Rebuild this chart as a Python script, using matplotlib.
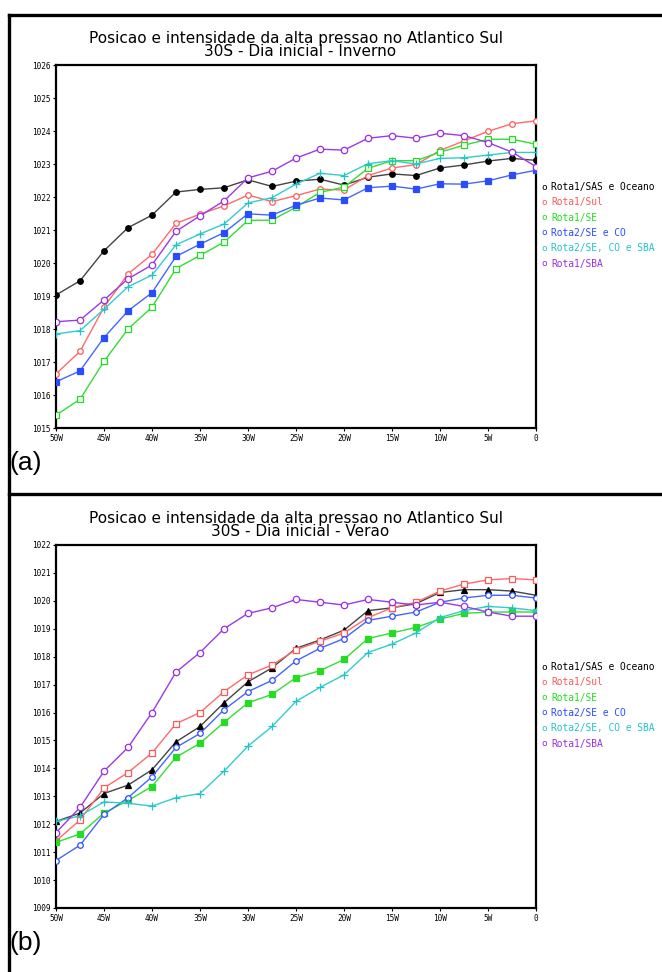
import matplotlib
matplotlib.use('Agg')
import matplotlib.pyplot as plt
from matplotlib.lines import Line2D

# ---------------- data ----------------
lon = [-50, -47.5, -45, -42.5, -40, -37.5, -35, -32.5, -30, -27.5, -25,
       -22.5, -20, -17.5, -15, -12.5, -10, -7.5, -5, -2.5, 0]
xtick_vals = [-50, -45, -40, -35, -30, -25, -20, -15, -10, -5, 0]
xtick_labels = ['50W', '45W', '40W', '35W', '30W', '25W', '20W', '15W', '10W', '5W', '0']

series_names = ['Rota1/SAS e Oceano', 'Rota1/Sul', 'Rota1/SE',
                'Rota2/SE e CO', 'Rota2/SE, CO e SBA', 'Rota1/SBA']

# Winter (Inverno)
inv_sas = [1019.03, 1019.46, 1020.37, 1021.07, 1021.45, 1022.15, 1022.23, 1022.28, 1022.52, 1022.32, 1022.48,
           1022.54, 1022.36, 1022.60, 1022.70, 1022.65, 1022.88, 1022.97, 1023.09, 1023.17, 1023.11]
inv_sul = [1016.64, 1017.32, 1018.66, 1019.67, 1020.26, 1021.20, 1021.48, 1021.73, 1022.06, 1021.86, 1022.04,
           1022.24, 1022.21, 1022.65, 1022.88, 1022.98, 1023.41, 1023.70, 1023.99, 1024.22, 1024.31]
inv_se = [1015.39, 1015.87, 1017.02, 1018.00, 1018.66, 1019.83, 1020.23, 1020.63, 1021.29, 1021.30, 1021.69,
          1022.14, 1022.30, 1022.87, 1023.10, 1023.10, 1023.36, 1023.57, 1023.75, 1023.75, 1023.60]
inv_seco = [1016.40, 1016.73, 1017.74, 1018.55, 1019.10, 1020.20, 1020.57, 1020.92, 1021.49, 1021.45, 1021.75,
            1021.97, 1021.91, 1022.28, 1022.33, 1022.24, 1022.40, 1022.39, 1022.49, 1022.67, 1022.81]
inv_secosba = [1017.85, 1017.95, 1018.60, 1019.28, 1019.63, 1020.55, 1020.88, 1021.18, 1021.82, 1021.98, 1022.39,
               1022.72, 1022.65, 1023.01, 1023.10, 1023.00, 1023.17, 1023.19, 1023.27, 1023.35, 1023.35]
inv_sba = [1018.22, 1018.27, 1018.88, 1019.52, 1019.94, 1020.96, 1021.43, 1021.88, 1022.58, 1022.78, 1023.18,
           1023.45, 1023.42, 1023.78, 1023.86, 1023.78, 1023.93, 1023.86, 1023.65, 1023.36, 1022.92]

# Summer (Verao)
ver_sas = [1012.10, 1012.40, 1013.10, 1013.40, 1013.95, 1014.95, 1015.50, 1016.35, 1017.10, 1017.60, 1018.30,
           1018.60, 1018.95, 1019.65, 1019.75, 1019.90, 1020.30, 1020.40, 1020.40, 1020.35, 1020.20]
ver_sul = [1011.40, 1012.15, 1013.30, 1013.85, 1014.55, 1015.60, 1016.00, 1016.75, 1017.35, 1017.70, 1018.25,
           1018.55, 1018.85, 1019.40, 1019.75, 1019.95, 1020.35, 1020.60, 1020.75, 1020.80, 1020.75]
ver_se = [1011.35, 1011.65, 1012.40, 1012.85, 1013.35, 1014.40, 1014.90, 1015.65, 1016.35, 1016.65, 1017.25,
          1017.50, 1017.90, 1018.65, 1018.85, 1019.05, 1019.35, 1019.55, 1019.60, 1019.60, 1019.60]
ver_seco = [1010.70, 1011.25, 1012.35, 1012.95, 1013.70, 1014.75, 1015.25, 1016.10, 1016.75, 1017.15, 1017.85,
            1018.30, 1018.65, 1019.30, 1019.45, 1019.60, 1019.95, 1020.10, 1020.20, 1020.20, 1020.10]
ver_secosba = [1012.10, 1012.30, 1012.80, 1012.75, 1012.65, 1012.95, 1013.10, 1013.90, 1014.80, 1015.50, 1016.40,
               1016.90, 1017.35, 1018.15, 1018.45, 1018.85, 1019.40, 1019.65, 1019.80, 1019.75, 1019.65]
ver_sba = [1011.70, 1012.60, 1013.90, 1014.75, 1016.00, 1017.45, 1018.15, 1019.00, 1019.55, 1019.75, 1020.05,
           1019.95, 1019.85, 1020.05, 1019.95, 1019.85, 1019.95, 1019.80, 1019.60, 1019.45, 1019.45]

inv_yticks = [1015, 1016, 1017, 1018, 1019, 1020, 1021, 1022, 1023, 1024, 1025, 1026]
ver_yticks = [1009, 1010, 1011, 1012, 1013, 1014, 1015, 1016, 1017, 1018, 1019, 1020, 1021, 1022]

title1 = 'Posicao e intensidade da alta pressao no Atlantico Sul'
title_inv = '30S - Dia inicial - Inverno'
title_ver = '30S - Dia inicial - Verao'

colors = ['#000000', '#ff5858', '#22dd22', '#2a4cff', '#22c4c8', '#9a2ee6']
line_colors = ['#444444', '#ff6a6a', '#33dd33', '#4466ff', '#33cccc', '#9a3ae6']

# markers: (marker, filled)
inv_markers = [('o', True), ('o', False), ('s', False), ('s', True), ('+', False), ('o', False)]
ver_markers = [('^', True), ('s', False), ('s', True), ('o', False), ('+', False), ('o', False)]

W, H = 662, 972
fig = plt.figure(figsize=(W / 100, H / 100), dpi=100)
fig.patch.set_facecolor('white')


def px_rect(x0, y0, x1, y1):
    return [x0 / W, 1 - y1 / H, (x1 - x0) / W, (y1 - y0) / H]


def draw_panel(top, series, markers, yticks, subtitle, letter):
    ax = fig.add_axes(px_rect(56, top, 536, top + 363))
    for vals, col, lcol, (mk, filled) in zip(series, colors, line_colors, markers):
        ms = 4.0 if mk != '+' else 5.5
        if col == colors[5]:
            ms = 4.6
        ax.plot(lon, vals, color=lcol, lw=1.0, marker=mk, ms=ms,
                mfc=col if filled else 'white', mec=col, mew=0.9, zorder=3)
    ax.set_xlim(-50, 0)
    ax.set_ylim(yticks[0], yticks[-1])
    ax.set_xticks(xtick_vals)
    ax.set_xticklabels(xtick_labels)
    ax.set_yticks(yticks)
    ax.set_yticklabels([str(t) for t in yticks])
    ax.tick_params(axis='both', direction='out', length=2.5, width=0.8, pad=1.5,
                   labelsize=5.6)
    for lab in ax.get_xticklabels() + ax.get_yticklabels():
        lab.set_family('DejaVu Sans Mono')
    for sp in ax.spines.values():
        sp.set_linewidth(1.6)
    # titles
    fig.text(296 / W, 1 - (top - 27) / H, title1, ha='center', va='center',
             fontsize=11, family='DejaVu Sans')
    fig.text(300 / W, 1 - (top - 13) / H, subtitle, ha='center', va='center',
             fontsize=11, family='DejaVu Sans')
    # legend
    ly0 = top + 122
    for i, (name, col) in enumerate(zip(series_names, colors)):
        y = 1 - (ly0 + i * 15.3) / H
        fig.text(541 / W, y, 'o', color=col, fontsize=6.8, family='DejaVu Sans Mono',
                 ha='left', va='center')
        fig.text(551 / W, y, name, color=col, fontsize=6.9, family='DejaVu Sans Mono',
                 ha='left', va='center')
    fig.text(9 / W, 1 - (top + 398) / H, letter, fontsize=19, family='Liberation Sans',
             ha='left', va='center')
    return ax


draw_panel(65, [inv_sas, inv_sul, inv_se, inv_seco, inv_secosba, inv_sba],
           inv_markers, inv_yticks, title_inv, '(a)')
draw_panel(545, [ver_sas, ver_sul, ver_se, ver_seco, ver_secosba, ver_sba],
           ver_markers, ver_yticks, title_ver, '(b)')

# panel frames
lw = 2.4
fig.add_artist(Line2D([9 / W, 1], [1 - 15 / H, 1 - 15 / H], color='black', lw=lw))
fig.add_artist(Line2D([9 / W, 1], [1 - 494 / H, 1 - 494 / H], color='black', lw=lw))
fig.add_artist(Line2D([9 / W, 9 / W], [1 - 15 / H, 0], color='black', lw=lw))

fig.savefig('out.png', dpi=100)
